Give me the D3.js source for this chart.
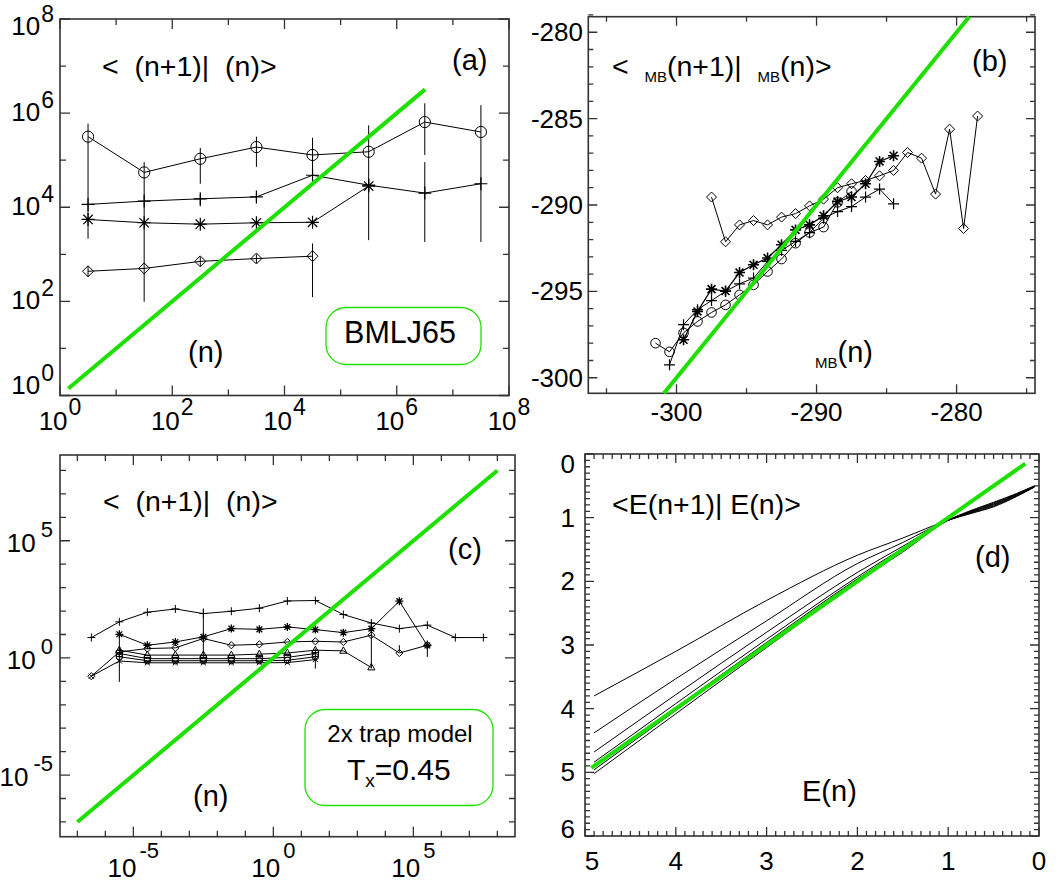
<!DOCTYPE html>
<html><head><meta charset="utf-8">
<script src="https://cdn.jsdelivr.net/npm/d3@7"></script>
<style>
body{margin:0;background:#fff;}
svg{display:block;font-family:"Liberation Sans",Arial,Helvetica,sans-serif;}
text{white-space:pre;fill:#000;}
</style></head><body>
<svg id="fig" width="1063" height="888"></svg>
<script>
// ================= DATA =================
// ---- panel (a): BMLJ65, log-log ----
const aX        = [3.16, 31.6, 316, 3160, 3.16e4, 3.16e5, 3.16e6, 3.16e7];
const aCircle   = [3.16e5, 5.5e4, 1.07e5, 1.9e5, 1.29e5, 1.51e5, 6.46e5, 3.98e5];
const aPlus     = [1.15e4, 1.35e4, 1.51e4, 1.66e4, 4.79e4, 2.95e4, 2.0e4, 3.16e4];
const aStar     = [5.5e3, 4.68e3, 4.37e3, 4.68e3, 4.79e3, 2.82e4];
const aDiamond  = [436, 501, 708, 813, 912];
const aBarX     = [3.16, 31.6, 316, 316, 3160, 3160, 3.16e4, 3.16e4, 3.16e5, 3.16e6, 3.16e6, 3.16e7, 3.16, 316, 3160];
const aBarLo    = [2.14e3, 98, 3.16e4, 1.05e4, 7.2e4, 1.3e4, 5.0e4, 123, 2.0e3, 1.29e5, 1.82e3, 1.82e3, 330, 560, 650];
const aBarHi    = [6.0e5, 9.1e4, 1.82e5, 1.9e4, 3.16e5, 2.0e4, 3.0e5, 1.7e3, 5.5e5, 1.62e6, 9.1e4, 1.48e6, 560, 880, 1000];
const aDiagonal = [1.41, 3.2e6];
const aTickExp  = [0, 1, 2, 3, 4, 5, 6, 7, 8];
const aLabelExp = [0, 2, 4, 6, 8];

// ---- panel (b): e_MB(n+1) vs e_MB(n) ----
const bCircleX  = [-301.5,-300.5,-299.5,-298.5,-297.5,-296.5,-295.5,-294.5,-293.5,-292.5,-291.5,-290.5,-289.5,-288.5,-287.5];
const bCircleY  = [-298.0,-298.5,-297.4,-296.74,-296.22,-295.78,-295.2,-294.62,-293.85,-293.13,-292.21,-291.59,-291.28,-289.85,-289.22];
const bPlusX    = [-300.5,-299.5,-298.5,-297.5,-296.5,-295.5,-294.5,-293.5,-292.5,-291.5,-290.5,-289.5,-288.5,-287.5,-286.5,-285.5,-284.5];
const bPlusY    = [-299.25,-296.93,-296.06,-295.53,-295.0,-294.56,-294.23,-293.27,-292.63,-292.11,-291.6,-290.76,-290.38,-290.09,-289.54,-289.08,-289.93];
const bStarX    = [-299.5,-298.5,-297.5,-296.5,-295.5,-294.5,-293.5,-292.5,-291.5,-290.5,-289.5,-288.5,-287.5,-286.5,-285.5,-284.5];
const bStarY    = [-297.8,-296.16,-294.87,-294.98,-293.91,-293.46,-293.07,-292.3,-291.44,-291.15,-290.62,-289.8,-289.54,-288.77,-287.48,-287.15];
const bDiamondX = [-297.5,-296.5,-295.5,-294.5,-293.5,-292.5,-291.5,-290.5,-289.5,-288.5,-287.5,-286.5,-285.5,-284.5,-283.5,-282.5,-281.5,-280.5,-279.5,-278.5];
const bDiamondY = [-289.54,-292.13,-291.15,-290.9,-291.15,-290.7,-290.5,-290.05,-289.66,-289.0,-288.77,-288.58,-288.31,-288.0,-286.96,-287.29,-289.37,-285.61,-291.36,-284.85];
const bDiagonal = [-300.9, -279.1];
const bXTicks   = [-305, -300, -295, -290, -285, -280, -275];
const bXLabels  = [-300, -290, -280];
const bYTicks   = d3.range(-300, -278.9, 1);
const bYLabels  = [-300, -295, -290, -285, -280];

// ---- panel (c): 2x trap model, Tx=0.45, log-log ----
const cPlusX    = [3.16e-7,3.16e-6,3.16e-5,3.16e-4,3.16e-3,3.16e-2,0.316,3.16,31.6,316,3160,3.16e4,3.16e5,3.16e6,3.16e7];
const cPlusY    = [7.4, 34.7, 89, 123, 78, 98, 132, 269, 282, 71, 31, 17.8, 25.1, 7.4, 7.4];
const cStarX    = [3.16e-6,3.16e-5,3.16e-4,3.16e-3,3.16e-2,0.316,3.16,31.6,316,3160,3.16e4,3.16e5];
const cStarY    = [10.2, 3.47, 4.79, 7.94, 17.8, 16.6, 20.9, 16.2, 12.0, 17.8, 263, 3.39];
const cDiamondX = [3.16e-7,3.16e-6,3.16e-5,3.16e-4,3.16e-3,3.16e-2,0.316,3.16,31.6,316,3160,3.16e4,3.16e5];
const cDiamondY = [0.166, 1.8, 2.51, 2.69, 6.76, 3.47, 3.80, 4.79, 5.13, 4.79, 9.33, 1.62, 3.47];
const cTriX     = [3.16e-6,3.16e-5,3.16e-4,3.16e-3,3.16e-2,0.316,3.16,31.6,316,3160];
const cTriY     = [2.14, 1.32, 1.32, 1.32, 1.32, 1.45, 1.62, 2.14, 2.0, 0.39];
const cSquareX  = [3.16e-6,3.16e-5,3.16e-4,3.16e-3,3.16e-2,0.316,3.16,31.6];
const cSquareY  = [1.55, 0.93, 0.93, 0.93, 0.93, 0.93, 1.05, 1.55];
const cCircleX  = [3.16e-6,3.16e-5,3.16e-4,3.16e-3,3.16e-2,0.316,3.16,31.6];
const cCircleY  = [1.12, 0.76, 0.76, 0.76, 0.76, 0.76, 0.79, 1.12];
const cCrossX   = [3.16e-7,3.16e-6,3.16e-5,3.16e-4,3.16e-3,3.16e-2,0.316,3.16,31.6];
const cCrossY   = [0.166, 0.74, 0.62, 0.62, 0.62, 0.62, 0.62, 0.63, 0.85];
const cBarX     = [3.16e-6, 3.16e-3, 31.6, 3160, 3.16e4, 3.16e5];
const cBarLo    = [0.095, 0.93, 0.35, 0.35, 1.8, 1.1];
const cBarHi    = [11, 129, 2.5, 35, 3.5, 5.6];
const cDiagonal = [1e-7, 1e8];
const cTickExp  = d3.range(-7, 9);
const cLabelExp = [-5, 0, 5];

// ---- panel (d): <E(n+1)|E(n)> ----
const dX      = [4.9, 4.0, 3.0, 2.0, 1.5, 1.0, 0.75, 0.5, 0.25, 0.05];
const dCurve1 = [3.80, 3.10, 2.30, 1.59, 1.32, 1.04, 0.935, 0.830, 0.670, 0.520];
const dCurve2 = [4.38, 3.53, 2.62, 1.72, 1.39, 1.04, 0.927, 0.818, 0.662, 0.517];
const dCurve3 = [4.68, 3.78, 2.80, 1.86, 1.45, 1.04, 0.919, 0.806, 0.654, 0.513];
const dCurve4 = [4.84, 3.92, 2.91, 1.93, 1.48, 1.04, 0.911, 0.794, 0.646, 0.510];
const dCurve5 = [4.90, 3.98, 2.96, 1.96, 1.50, 1.04, 0.903, 0.782, 0.638, 0.507];
const dCurve6 = [4.96, 4.03, 3.00, 1.98, 1.52, 1.04, 0.895, 0.770, 0.630, 0.503];
const dCurve7 = [5.02, 4.08, 3.04, 2.01, 1.54, 1.04, 0.887, 0.758, 0.622, 0.500];
const dDiagonal = [4.93, 0.15];
const dTicks  = d3.range(0, 60.5, 1).map(v => v / 10);
const dXLabels = [5, 4, 3, 2, 1, 0];
const dYLabels = [0, 1, 2, 3, 4, 5, 6];

// ================= DRAWING =================
const GREEN = "#1ee000";
const AX = "#333";
const svg = d3.select("#fig");

function frame(xs, ys, xTicks, yTicks, majX, majY, Lmaj, Lmin) {
  const [xa, xb] = xs.range(), [ya, yb] = ys.range();
  const L = Math.min(xa, xb), R = Math.max(xa, xb), T = Math.min(ya, yb), B = Math.max(ya, yb);
  const g = svg.append("g");
  let p = "";
  xTicks.forEach(t => { const px = xs(t), l = majX(t) ? Lmaj : Lmin;
    p += `M${px},${B}V${B - l}M${px},${T}V${T + l}`; });
  yTicks.forEach(t => { const py = ys(t), l = majY(t) ? Lmaj : Lmin;
    p += `M${L},${py}H${L + l}M${R},${py}H${R - l}`; });
  g.append("path").attr("d", p).attr("stroke", AX).attr("stroke-width", 1.3).attr("fill", "none");
  g.append("rect").attr("x", L).attr("y", T).attr("width", R - L).attr("height", B - T)
    .attr("fill", "none").attr("stroke", AX).attr("stroke-width", 1.6);
  return {L, R, T, B};
}

function marker(g, type, cx, cy, s, sw) {
  let d;
  const k = s * 0.72;
  switch (type) {
    case "circle": g.append("circle").attr("cx", cx).attr("cy", cy).attr("r", s)
      .attr("fill", "none").attr("stroke", "#000").attr("stroke-width", sw); return;
    case "plus": d = `M${cx - s},${cy}H${cx + s}M${cx},${cy - s}V${cy + s}`; break;
    case "star": d = `M${cx - s},${cy}H${cx + s}M${cx},${cy - s}V${cy + s}M${cx - k},${cy - k}L${cx + k},${cy + k}M${cx + k},${cy - k}L${cx - k},${cy + k}`; break;
    case "diamond": d = `M${cx},${cy - s}L${cx + s},${cy}L${cx},${cy + s}L${cx - s},${cy}Z`; break;
    case "tri": d = `M${cx},${cy - s}L${cx + s * 0.9},${cy + s * 0.6}L${cx - s * 0.9},${cy + s * 0.6}Z`; break;
    case "square": d = `M${cx - k},${cy - k}H${cx + k}V${cy + k}H${cx - k}Z`; break;
    case "cross": d = `M${cx - k},${cy - k}L${cx + k},${cy + k}M${cx + k},${cy - k}L${cx - k},${cy + k}`; break;
  }
  g.append("path").attr("d", d).attr("fill", "none").attr("stroke", "#000").attr("stroke-width", sw);
}

function series(xs, ys, X, Y, type, s, sw, lw) {
  const g = svg.append("g");
  const pts = X.map((x, i) => [xs(x), ys(Y[i])]);
  g.append("path").attr("d", d3.line()(pts)).attr("fill", "none").attr("stroke", "#000").attr("stroke-width", lw);
  pts.forEach(p => marker(g, type, p[0], p[1], s, sw));
}

function bars(xs, ys, X, lo, hi, lw) {
  const g = svg.append("g");
  X.forEach((x, i) => g.append("line").attr("x1", xs(x)).attr("x2", xs(x))
    .attr("y1", ys(lo[i])).attr("y2", ys(hi[i])).attr("stroke", "#000").attr("stroke-width", lw));
}

function diag(xs, ys, ends) {
  svg.append("path").attr("d", d3.line()(ends.map(v => [xs(v), ys(v)])))
    .attr("stroke", GREEN).attr("stroke-width", 4).attr("fill", "none");
}

function txt(x, y, s, fs, anchor) {
  return svg.append("text").attr("x", x).attr("y", y).attr("font-size", fs)
    .attr("text-anchor", anchor || "start").text(s);
}

function powLabel(x, y, exp, fs, fsSup, rise, gap, anchor) {
  const t = svg.append("text").attr("x", x).attr("y", y).attr("font-size", fs).attr("text-anchor", anchor);
  t.append("tspan").text("10");
  t.append("tspan").attr("dx", gap).attr("dy", -rise).attr("font-size", fsSup).text(String(exp));
  return t;
}

const clamp = (v, a, b) => Math.max(a, Math.min(b, v));

// ---------- panel (a) ----------
{
  const xs = d3.scaleLog().domain([1, 1e8]).range([60, 509]);
  const ys = d3.scaleLog().domain([1, 1e8]).range([395.5, 19]);
  const tv = aTickExp.map(e => Math.pow(10, e));
  const isMaj = t => Math.round(Math.log10(t)) % 2 === 0;
  frame(xs, ys, tv, tv, isMaj, isMaj, 10, 6);
  aLabelExp.forEach(e => {
    powLabel(xs(Math.pow(10, e)), 430, e, 26, 23, 15, 1, "middle");
    powLabel(54, clamp(ys(Math.pow(10, e)) + 8, 35, 394), e, 26, 23, 13, 1, "end");
  });
  bars(xs, ys, aBarX, aBarLo, aBarHi, 1);
  series(xs, ys, aX, aCircle, "circle", 5.6, 1, 1);
  series(xs, ys, aX, aPlus, "plus", 6.5, 1.2, 1);
  series(xs, ys, aX.slice(0, aStar.length), aStar, "star", 6.5, 1.2, 1);
  series(xs, ys, aX.slice(0, aDiamond.length), aDiamond, "diamond", 5.5, 1, 1);
  diag(xs, ys, aDiagonal);
  txt(102, 76, "<  (n+1)|  (n)>", 28.5);
  txt(452, 70, "(a)", 29);
  txt(188, 362, "(n)", 29);
  svg.append("rect").attr("x", 326).attr("y", 307.5).attr("width", 155).attr("height", 57).attr("rx", 20)
    .attr("fill", "none").attr("stroke", GREEN).attr("stroke-width", 1.3);
  txt(400, 343, "BMLJ65", 30.5, "middle");
}

// ---------- panel (b) ----------
{
  const xs = d3.scaleLinear().domain([-306.3, -274.4]).range([588.3, 1035]);
  const ys = d3.scaleLinear().domain([-300.9, -279.1]).range([393.3, 16.7]);
  frame(xs, ys, bXTicks, bYTicks, t => t % 10 === 0, t => t % 5 === 0, 9, 5);
  bXLabels.forEach(v => txt(xs(v), 421, String(v), 26, "middle"));
  bYLabels.forEach(v => txt(583, ys(v) + 9, String(v), 26, "end"));
  series(xs, ys, bDiamondX, bDiamondY, "diamond", 5, 1, 1);
  series(xs, ys, bCircleX, bCircleY, "circle", 4.8, 1, 1);
  series(xs, ys, bPlusX, bPlusY, "plus", 5.5, 1.2, 1);
  series(xs, ys, bStarX, bStarY, "star", 5.5, 1.6, 1.2);
  diag(xs, ys, bDiagonal);
  const t = svg.append("text").attr("x", 612).attr("y", 76).attr("font-size", 28.5);
  t.append("tspan").text("<  ");
  t.append("tspan").attr("font-size", 15).attr("dy", 6).text("MB");
  t.append("tspan").attr("dy", -6).text("(n+1)|  ");
  t.append("tspan").attr("font-size", 15).attr("dy", 6).text("MB");
  t.append("tspan").attr("dy", -6).text("(n)>");
  txt(972, 71, "(b)", 29);
  const t2 = svg.append("text").attr("x", 815).attr("y", 368).attr("font-size", 15);
  t2.append("tspan").text("MB");
  t2.append("tspan").attr("font-size", 29).attr("dy", -6).text("(n)");
}

// ---------- panel (c) ----------
{
  const xs = d3.scaleLog().domain([Math.pow(10, -7.62), Math.pow(10, 8.63)]).range([60, 515]);
  const ys = d3.scaleLog().domain([Math.pow(10, -7.63), Math.pow(10, 8.66)]).range([836.7, 455]);
  const tv = cTickExp.map(e => Math.pow(10, e));
  const isMaj = t => Math.round(Math.log10(t)) % 5 === 0;
  frame(xs, ys, tv, tv, isMaj, isMaj, 10, 6);
  cLabelExp.forEach(e => {
    powLabel(xs(Math.pow(10, e)), 877, e, 26, 22, 19, 3, "middle");
    powLabel(53, ys(Math.pow(10, e)) + 11, e, 26, 22, 15, 5, "end");
  });
  bars(xs, ys, cBarX, cBarLo, cBarHi, 1);
  series(xs, ys, cCrossX, cCrossY, "cross", 3.6, 1, 1);
  series(xs, ys, cCircleX, cCircleY, "circle", 3.2, 1, 1);
  series(xs, ys, cSquareX, cSquareY, "square", 4.2, 1, 1);
  series(xs, ys, cTriX, cTriY, "tri", 4, 1, 1);
  series(xs, ys, cDiamondX, cDiamondY, "diamond", 3.6, 1, 1);
  series(xs, ys, cStarX, cStarY, "star", 4, 1.3, 1);
  series(xs, ys, cPlusX, cPlusY, "plus", 4, 1, 1);
  diag(xs, ys, cDiagonal);
  txt(103, 511, "<  (n+1)|  (n)>", 28.5);
  txt(448, 559, "(c)", 29);
  txt(193, 806, "(n)", 29);
  svg.append("rect").attr("x", 305).attr("y", 709.5).attr("width", 188).attr("height", 96).attr("rx", 20)
    .attr("fill", "none").attr("stroke", GREEN).attr("stroke-width", 1.3);
  txt(400, 741.5, "2x trap model", 24, "middle");
  const t = svg.append("text").attr("x", 347).attr("y", 780).attr("font-size", 30);
  t.append("tspan").text("T");
  t.append("tspan").attr("font-size", 19).attr("dy", 7).text("x");
  t.append("tspan").attr("dy", -7).attr("font-size", 30).text("=0.45");
}

// ---------- panel (d) ----------
{
  const xs = d3.scaleLinear().domain([5, 0]).range([585, 1039]);
  const ys = d3.scaleLinear().domain([0, 6]).range([454, 836]);
  const isMaj = t => Math.abs(t - Math.round(t)) < 1e-6;
  frame(xs, ys, dTicks.filter(t => t <= 5.0001), dTicks, isMaj, isMaj, 9, 5);
  dXLabels.forEach(v => txt(xs(v) + (v === 5 ? 7 : 0), 870, String(v), 26, "middle"));
  dYLabels.forEach(v => txt(575, clamp(ys(v) + 9, 473, 838), String(v), 26, "end"));
  const line = d3.line().x(d => xs(d[0])).y(d => ys(d[1])).curve(d3.curveMonotoneX);
  [dCurve1, dCurve2, dCurve3, dCurve4, dCurve5, dCurve6, dCurve7].forEach(c => {
    svg.append("path").attr("d", line(dX.map((x, i) => [x, c[i]])))
      .attr("fill", "none").attr("stroke", "#000").attr("stroke-width", 1);
  });
  diag(xs, ys, dDiagonal);
  txt(612, 514, "<E(n+1)| E(n)>", 28.5);
  txt(975, 567, "(d)", 29);
  txt(802, 801, "E(n)", 29);
}
</script>
</body></html>
